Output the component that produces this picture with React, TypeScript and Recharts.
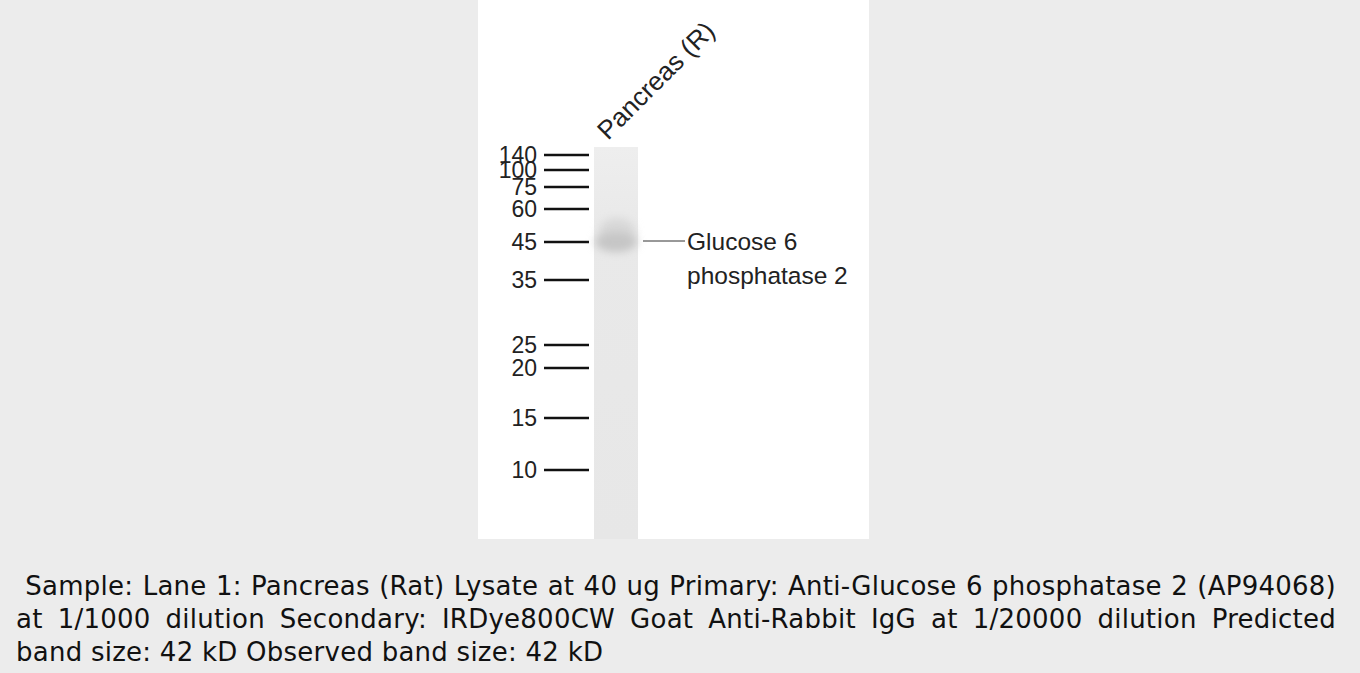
import React from 'react';
import { ComposedChart, Bar, Scatter, XAxis, YAxis } from 'recharts';

// Ladder: marker size (kDa) and migration distance (px below the top of the lane)
const markerKDa = [140, 100, 75, 60, 45, 35, 25, 20, 15, 10];
const markerMigration = [8, 23, 40, 62, 95, 133, 198, 221, 271, 323];

// Lanes
const laneNames = ['Pancreas (R)'];
const laneLengths = [392];
const bandMigration = [94];
const bandTargets = [['Glucose 6', 'phosphatase 2']];

const laneRows = laneNames.map((name, i) => ({
    lane: name,
    laneLength: laneLengths[i],
    band: bandMigration[i],
    target: bandTargets[i],
}));

const kdaByMigration: Record<number, number> = {};
markerMigration.forEach((m, i) => { kdaByMigration[m] = markerKDa[i]; });

const CAPTION =
    '\u00a0Sample: Lane 1: Pancreas (Rat) Lysate at 40 ug Primary: Anti-Glucose 6 phosphatase 2 (AP94068) at 1/1000 dilution Secondary: IRDye800CW Goat Anti-Rabbit IgG at 1/20000 dilution Predicted band size: 42 kD Observed band size: 42 kD';

const FONT = '"Liberation Sans", Arial, sans-serif';

const LaneTick = (props: any) => {
    const { x, y, payload } = props;
    const tx = x - 8;
    const ty = y + 1;
    return (
        <text x={tx} y={ty} transform={`rotate(-45, ${tx}, ${ty})`} fontSize={26}
            fontFamily={FONT} fill="#222" textAnchor="start">
            {payload.value}
        </text>
    );
};

const BandShape = (props: any) => {
    const { cx, cy, payload } = props;
    const lines: string[] = payload.target;
    return (
        <g>
            <ellipse cx={cx + 1} cy={cy - 9} rx={18} ry={14} fill="#d8d8d8" filter="url(#bandBlur)" />
            <ellipse cx={cx} cy={cy + 1} rx={21} ry={10} fill="#c6c6c6" filter="url(#bandBlur)" />
            <line x1={cx + 27} x2={cx + 69} y1={cy} y2={cy} stroke="#333" strokeWidth={1} />
            {lines.map((t, i) => (
                <text key={t} x={cx + 71} y={cy + 9 + i * 34} fontSize={24.5} fontFamily={FONT} fill="#222">
                    {t}
                </text>
            ))}
        </g>
    );
};

export default function App() {
    return (
        <div style={{ position: 'absolute', left: 0, top: 0, width: 1360, height: 673, background: '#ececec' }}>
            <div style={{ position: 'absolute', left: 478, top: 0, width: 391, height: 539, background: '#fff' }}>
                <ComposedChart
                    width={391}
                    height={539}
                    data={laneRows}
                    margin={{ top: 0, right: 226, bottom: 0, left: 0 }}
                >
                    <defs>
                        <linearGradient id="laneFill" x1="0" y1="0" x2="0" y2="1">
                            <stop offset="0%" stopColor="#eeeeee" />
                            <stop offset="20%" stopColor="#e9e9e9" />
                            <stop offset="100%" stopColor="#e7e7e7" />
                        </linearGradient>
                        <filter id="bandBlur" x="-50%" y="-50%" width="200%" height="200%">
                            <feGaussianBlur stdDeviation="4" />
                        </filter>
                    </defs>
                    <XAxis
                        dataKey="lane"
                        orientation="top"
                        height={147}
                        axisLine={false}
                        tickLine={false}
                        tickSize={0}
                        tickMargin={7}
                        tick={<LaneTick />}
                    />
                    <YAxis
                        type="number"
                        domain={[0, 392]}
                        reversed
                        width={111}
                        ticks={markerMigration}
                        interval={0}
                        tickFormatter={(v: number) => String(kdaByMigration[v])}
                        axisLine={false}
                        tickSize={45}
                        tickMargin={7}
                        tickLine={{ stroke: '#111', strokeWidth: 2.5 }}
                        tick={{ fill: '#222', fontSize: 23, fontFamily: FONT }}
                    />
                    <Bar dataKey="laneLength" barSize={44} fill="url(#laneFill)" isAnimationActive={false} />
                    <Scatter dataKey="band" shape={<BandShape />} isAnimationActive={false} />
                </ComposedChart>
            </div>
            <div
                style={{
                    position: 'absolute',
                    left: 16,
                    top: 570,
                    width: 1320,
                    fontFamily: '"DejaVu Sans", sans-serif',
                    fontSize: 26,
                    letterSpacing: '0.25px',
                    lineHeight: '33px',
                    textAlign: 'justify',
                    color: '#111',
                }}
            >
                {CAPTION}
            </div>
        </div>
    );
}
